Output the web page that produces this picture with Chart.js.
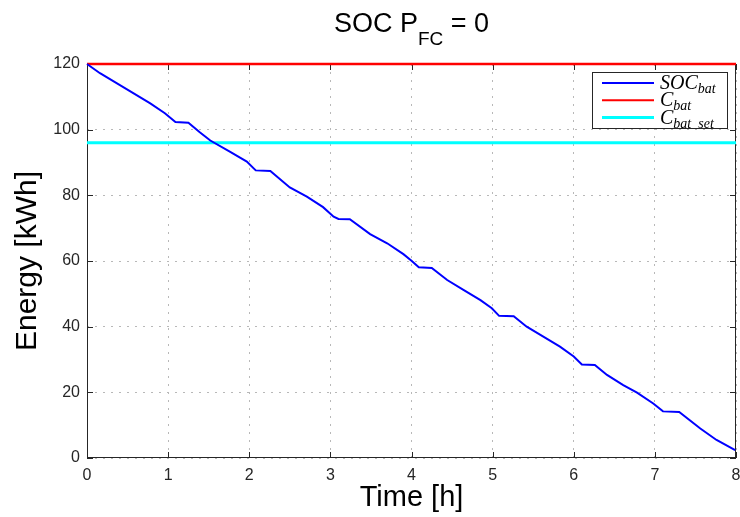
<!DOCTYPE html>
<html>
<head>
<meta charset="utf-8">
<script src="https://cdn.jsdelivr.net/npm/chart.js@4.4.1/dist/chart.umd.min.js"></script>
<style>
  html, body { margin: 0; padding: 0; background: #fff; }
</style>
</head>
<body>
<canvas id="socChart" width="740" height="517"></canvas>
<script>
// battery state of charge over the drive, fuel cell off
const timeH = [0, 0.16, 0.37, 0.57, 0.78, 0.96, 1.09, 1.25, 1.39, 1.52, 1.76, 1.97,
  2.08, 2.26, 2.50, 2.71, 2.91, 3.04, 3.10, 3.24, 3.49, 3.70, 3.90, 4.00,
  4.09, 4.25, 4.44, 4.64, 4.85, 4.99, 5.08, 5.26, 5.42, 5.63, 5.83, 6.00,
  6.10, 6.26, 6.41, 6.61, 6.78, 6.98, 7.10, 7.30, 7.56, 7.76, 7.99];
const socBat = [120, 117.2, 114.1, 111.1, 108.0, 105.0, 102.3, 102.1, 99.2, 96.7, 93.3, 90.3,
  87.6, 87.4, 82.4, 79.6, 76.4, 73.5, 72.8, 72.7, 68.2, 65.4, 62.1, 60.1,
  58.1, 57.9, 54.2, 51.2, 48.1, 45.6, 43.3, 43.2, 40.0, 36.9, 33.9, 30.9,
  28.5, 28.3, 25.3, 22.2, 19.9, 16.6, 14.2, 14.0, 9.0, 5.5, 2.4];

const limitTime = [0, 8];
const cBat = [120, 120];
const cBatSet = [96, 96];

const xTicks = [0, 1, 2, 3, 4, 5, 6, 7, 8];
const yTicks = [0, 20, 40, 60, 80, 100, 120];

const toPoints = (xs, ys) => xs.map((x, i) => ({x: x, y: ys[i]}));

const SANS = '"Liberation Sans", Arial, sans-serif';
const SERIF = '"Liberation Serif", "Times New Roman", serif';

// title with subscript: SOC P_FC = 0
const titlePlugin = {
  id: 'subTitle',
  afterDraw(chart) {
    const {ctx, chartArea: a} = chart;
    const parts = [
      {t: 'SOC P', size: 27, dy: 0},
      {t: 'FC', size: 19, dy: 13},
      {t: ' = 0', size: 27, dy: 0}
    ];
    ctx.save();
    ctx.fillStyle = '#000';
    ctx.textBaseline = 'alphabetic';
    let total = 0;
    parts.forEach(p => { ctx.font = p.size + 'px ' + SANS; p.w = ctx.measureText(p.t).width; total += p.w; });
    let x = (a.left + a.right) / 2 - total / 2;
    parts.forEach(p => {
      ctx.font = p.size + 'px ' + SANS;
      ctx.fillText(p.t, x, 32 + p.dy);
      x += p.w;
    });
    ctx.restore();
  }
};

// axes box with inward ticks on all four sides
const framePlugin = {
  id: 'frame',
  beforeDatasetsDraw(chart) {
    const {ctx, chartArea: a, scales: {x, y}} = chart;
    const len = 6;
    ctx.save();
    ctx.strokeStyle = '#262626';
    ctx.lineWidth = 1;
    ctx.strokeRect(Math.round(a.left) + 0.5, Math.round(a.top) + 0.5,
      Math.round(a.width) - 1, Math.round(a.height) - 1);
    ctx.beginPath();
    xTicks.forEach(v => {
      const px = Math.round(x.getPixelForValue(v)) + 0.5;
      ctx.moveTo(px, a.bottom); ctx.lineTo(px, a.bottom - len);
      ctx.moveTo(px, a.top); ctx.lineTo(px, a.top + len);
    });
    yTicks.forEach(v => {
      const py = Math.round(y.getPixelForValue(v)) + 0.5;
      ctx.moveTo(a.left, py); ctx.lineTo(a.left + len, py);
      ctx.moveTo(a.right, py); ctx.lineTo(a.right - len, py);
    });
    ctx.stroke();
    ctx.restore();
  }
};

// legend box, italic labels with subscripts
const legendPlugin = {
  id: 'mathLegend',
  afterDatasetsDraw(chart) {
    const {ctx, chartArea: a} = chart;
    const entries = [
      {main: 'SOC', sub: 'bat', color: '#0000ff', width: 2},
      {main: 'C', sub: 'bat', color: '#ff0000', width: 2},
      {main: 'C', sub: 'bat  set', color: '#00ffff', width: 3}
    ];
    const boxW = 135, boxH = 56;
    const bx = a.right - 9 - boxW, by = a.top + 8;
    ctx.save();
    ctx.fillStyle = '#fff';
    ctx.fillRect(bx, by, boxW, boxH);
    ctx.strokeStyle = '#262626';
    ctx.lineWidth = 1;
    ctx.strokeRect(Math.round(bx) + 0.5, Math.round(by) + 0.5, boxW, boxH);
    ctx.fillStyle = '#000';
    entries.forEach((e, i) => {
      const ly = by + 11 + i * 17.3;
      ctx.strokeStyle = e.color;
      ctx.lineWidth = e.width;
      ctx.beginPath();
      ctx.moveTo(bx + 10, ly);
      ctx.lineTo(bx + 62, ly);
      ctx.stroke();
      ctx.font = 'italic 20px ' + SERIF;
      ctx.fillText(e.main, bx + 68, ly + 6);
      const mw = ctx.measureText(e.main).width;
      ctx.font = 'italic 14px ' + SERIF;
      ctx.fillText(e.sub, bx + 68 + mw, ly + 10);
    });
    ctx.restore();
  }
};

const gridStyle = {color: '#b8b8b8', lineWidth: 1, drawTicks: false};

new Chart(document.getElementById('socChart'), {
  type: 'line',
  data: {
    datasets: [
      {
        label: 'SOC_bat',
        data: toPoints(timeH, socBat),
        borderColor: '#0000ff',
        borderWidth: 2,
        pointRadius: 0,
        tension: 0,
        clip: false
      },
      {
        label: 'C_bat',
        data: toPoints(limitTime, cBat),
        borderColor: '#ff0000',
        borderWidth: 2.5,
        pointRadius: 0,
        clip: false
      },
      {
        label: 'C_bat_set',
        data: toPoints(limitTime, cBatSet),
        borderColor: '#00ffff',
        borderWidth: 3,
        pointRadius: 0,
        clip: false
      }
    ]
  },
  options: {
    responsive: false,
    animation: false,
    layout: {padding: {top: 64, right: 4, left: 0, bottom: 0}},
    plugins: {
      legend: {display: false},
      tooltip: {enabled: false},
      title: {display: false}
    },
    scales: {
      x: {
        type: 'linear',
        min: 0,
        max: 8,
        afterBuildTicks: s => { s.ticks = xTicks.map(v => ({value: v})); },
        afterFit: s => { s.height = 59; s.paddingRight = 0; s.paddingLeft = 0; },
        grid: gridStyle,
        border: {display: false, dash: [2, 6]},
        ticks: {color: '#262626', padding: 8, font: {family: SANS, size: 16}},
        title: {
          display: true,
          text: 'Time [h]',
          color: '#000',
          font: {family: SANS, size: 29},
          padding: {top: 0, bottom: 2}
        }
      },
      y: {
        min: 0,
        max: 120,
        afterBuildTicks: s => { s.ticks = yTicks.map(v => ({value: v})); },
        afterFit: s => { s.width = 87; s.paddingTop = 0; s.paddingBottom = 0; },
        grid: gridStyle,
        border: {display: false, dash: [2, 6]},
        ticks: {color: '#262626', padding: 7, font: {family: SANS, size: 16}},
        title: {
          display: true,
          text: 'Energy [kWh]',
          color: '#000',
          font: {family: SANS, size: 30},
          padding: {top: 10, bottom: 0}
        }
      }
    }
  },
  plugins: [framePlugin, legendPlugin, titlePlugin]
});
</script>
</body>
</html>
